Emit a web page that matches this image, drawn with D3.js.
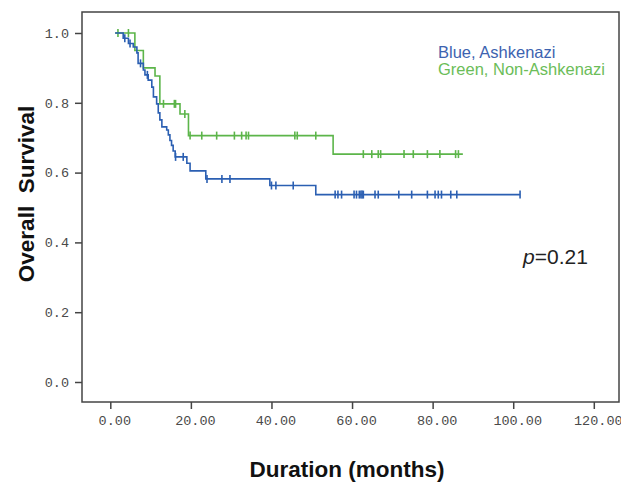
<!DOCTYPE html>
<head>
<meta charset="utf-8">
<style>
body { margin: 0; background: #fff; }
.tick text { font-family: "Liberation Mono", monospace; font-size: 13.5px; fill: #4a4a4a; }
.tick line, .axis path { stroke: #444; stroke-width: 1.5px; }
.axis path { display: none; }
.frame { fill: none; stroke: #444; stroke-width: 1.5px; }
.curve { fill: none; stroke-width: 1.6px; }
.lbl { font-family: "Liberation Sans", Arial, sans-serif; font-weight: bold; fill: #111; }
</style>
<script src="https://cdn.jsdelivr.net/npm/d3@7"></script>
</head>
<body>
<script>
// Kaplan-Meier steps (months, survival)
var blueTimes = [1.2, 3.2, 4.5, 5.7, 6.6, 6.9, 8.2, 8.6, 9.4, 10.3, 10.7, 11.5, 11.9, 12.3, 12.8, 14.0, 14.4, 14.8, 15.2, 15.6, 16.1, 19.0, 19.8, 23.7, 39.6, 51.0];
var blueSurv  = [1.0, 0.985, 0.970, 0.960, 0.943, 0.913, 0.894, 0.880, 0.865, 0.845, 0.817, 0.797, 0.771, 0.751, 0.731, 0.722, 0.708, 0.692, 0.678, 0.662, 0.645, 0.627, 0.605, 0.582, 0.563, 0.537];
var blueCensored = [3.6, 4.9, 7.5, 9.2, 16.2, 18.1, 24.0, 27.7, 29.7, 40.0, 41.1, 45.4, 55.8, 56.5, 57.4, 60.5, 61.1, 61.8, 62.2, 62.5, 62.8, 65.7, 66.5, 71.6, 74.8, 78.7, 80.6, 81.4, 82.2, 84.5, 86.0, 101.7];
var blueEnd = 101.7;

var greenTimes = [1.2, 6.1, 8.2, 11.1, 12.3, 17.3, 19.4, 55.3];
var greenSurv  = [1.0, 0.95, 0.90, 0.877, 0.797, 0.768, 0.706, 0.653];
var greenCensored = [1.9, 4.5, 13.2, 15.9, 16.2, 18.5, 19.8, 22.7, 26.4, 30.8, 32.6, 33.7, 34.3, 45.8, 46.4, 51.0, 62.8, 64.9, 66.5, 67.1, 72.9, 75.2, 78.7, 81.8, 85.7, 86.4];
var greenEnd = 87.5;

var xTicks = [0, 20, 40, 60, 80, 100, 120];
var yTicks = [0, 0.2, 0.4, 0.6, 0.8, 1.0];

var legendLabels = ["Blue, Ashkenazi", "Green, Non-Ashkenazi"];
var pLabel = "0.21";

var W = 621, H = 486;
var frame = {left: 82, top: 12, right: 619, bottom: 402};

var x = d3.scaleLinear().domain([0, 120]).range([110.3, 593.8]);
var y = d3.scaleLinear().domain([0, 1]).range([382, 33]);

var svg = d3.select("body").append("svg")
    .attr("width", W)
    .attr("height", H);

svg.append("rect")
    .attr("class", "frame")
    .attr("x", frame.left)
    .attr("y", frame.top)
    .attr("width", frame.right - frame.left)
    .attr("height", frame.bottom - frame.top);

var xAxis = svg.append("g")
    .attr("class", "axis")
    .attr("transform", "translate(0," + frame.bottom + ")")
    .call(d3.axisBottom(x).tickValues(xTicks).tickFormat(d3.format(".2f")).tickSize(7).tickPadding(6));
xAxis.selectAll("text").attr("dx", 4);

svg.append("g")
    .attr("class", "axis")
    .attr("transform", "translate(" + frame.left + ",0)")
    .call(d3.axisLeft(y).tickValues(yTicks).tickFormat(d3.format(".1f")).tickSize(7).tickPadding(6));

var line = d3.line()
    .curve(d3.curveStepAfter)
    .x(function(d) { return x(d[0]); })
    .y(function(d) { return y(d[1]); });

function survAt(times, surv, t) {
  var s = surv[0];
  for (var i = 0; i < times.length; i++) if (times[i] <= t) s = surv[i];
  return s;
}

function drawCurve(times, surv, censored, end, color) {
  var pts = times.map(function(t, i) { return [t, surv[i]]; });
  pts.push([end, surv[surv.length - 1]]);
  svg.append("path")
      .datum(pts)
      .attr("class", "curve")
      .attr("d", line)
      .style("stroke", color);
  svg.append("g").selectAll("line")
      .data(censored)
    .enter().append("line")
      .attr("x1", function(d) { return x(d); })
      .attr("x2", function(d) { return x(d); })
      .attr("y1", function(d) { return y(survAt(times, surv, d)) - 4; })
      .attr("y2", function(d) { return y(survAt(times, surv, d)) + 4; })
      .style("stroke", color)
      .style("stroke-width", 1.6);
}

drawCurve(greenTimes, greenSurv, greenCensored, greenEnd, "#5cb54a");
drawCurve(blueTimes, blueSurv, blueCensored, blueEnd, "#2b5fb2");

// legend
svg.append("g").selectAll("text")
    .data(legendLabels)
  .enter().append("text")
    .attr("x", 438)
    .attr("y", function(d, i) { return 58 + i * 16.5; })
    .style("font-family", "Liberation Sans, Arial, sans-serif")
    .style("font-size", "16.5px")
    .style("fill", function(d, i) { return i ? "#6bbd58" : "#3d63b0"; })
    .text(function(d) { return d; });

var pt = svg.append("text")
    .attr("x", 523)
    .attr("y", 264)
    .style("font-family", "Liberation Sans, Arial, sans-serif")
    .style("font-size", "21px")
    .style("fill", "#222");
pt.append("tspan").style("font-style", "italic").text("p");
pt.append("tspan").text("=" + pLabel);

svg.append("text")
    .attr("class", "lbl")
    .attr("x", 347)
    .attr("y", 477)
    .attr("text-anchor", "middle")
    .style("font-size", "22.5px")
    .text("Duration (months)");

svg.append("text")
    .attr("class", "lbl")
    .attr("transform", "translate(34,194) rotate(-90)")
    .attr("text-anchor", "middle")
    .style("font-size", "22.5px")
    .style("white-space", "pre")
    .text("Overall  Survival");
</script>
</body>
